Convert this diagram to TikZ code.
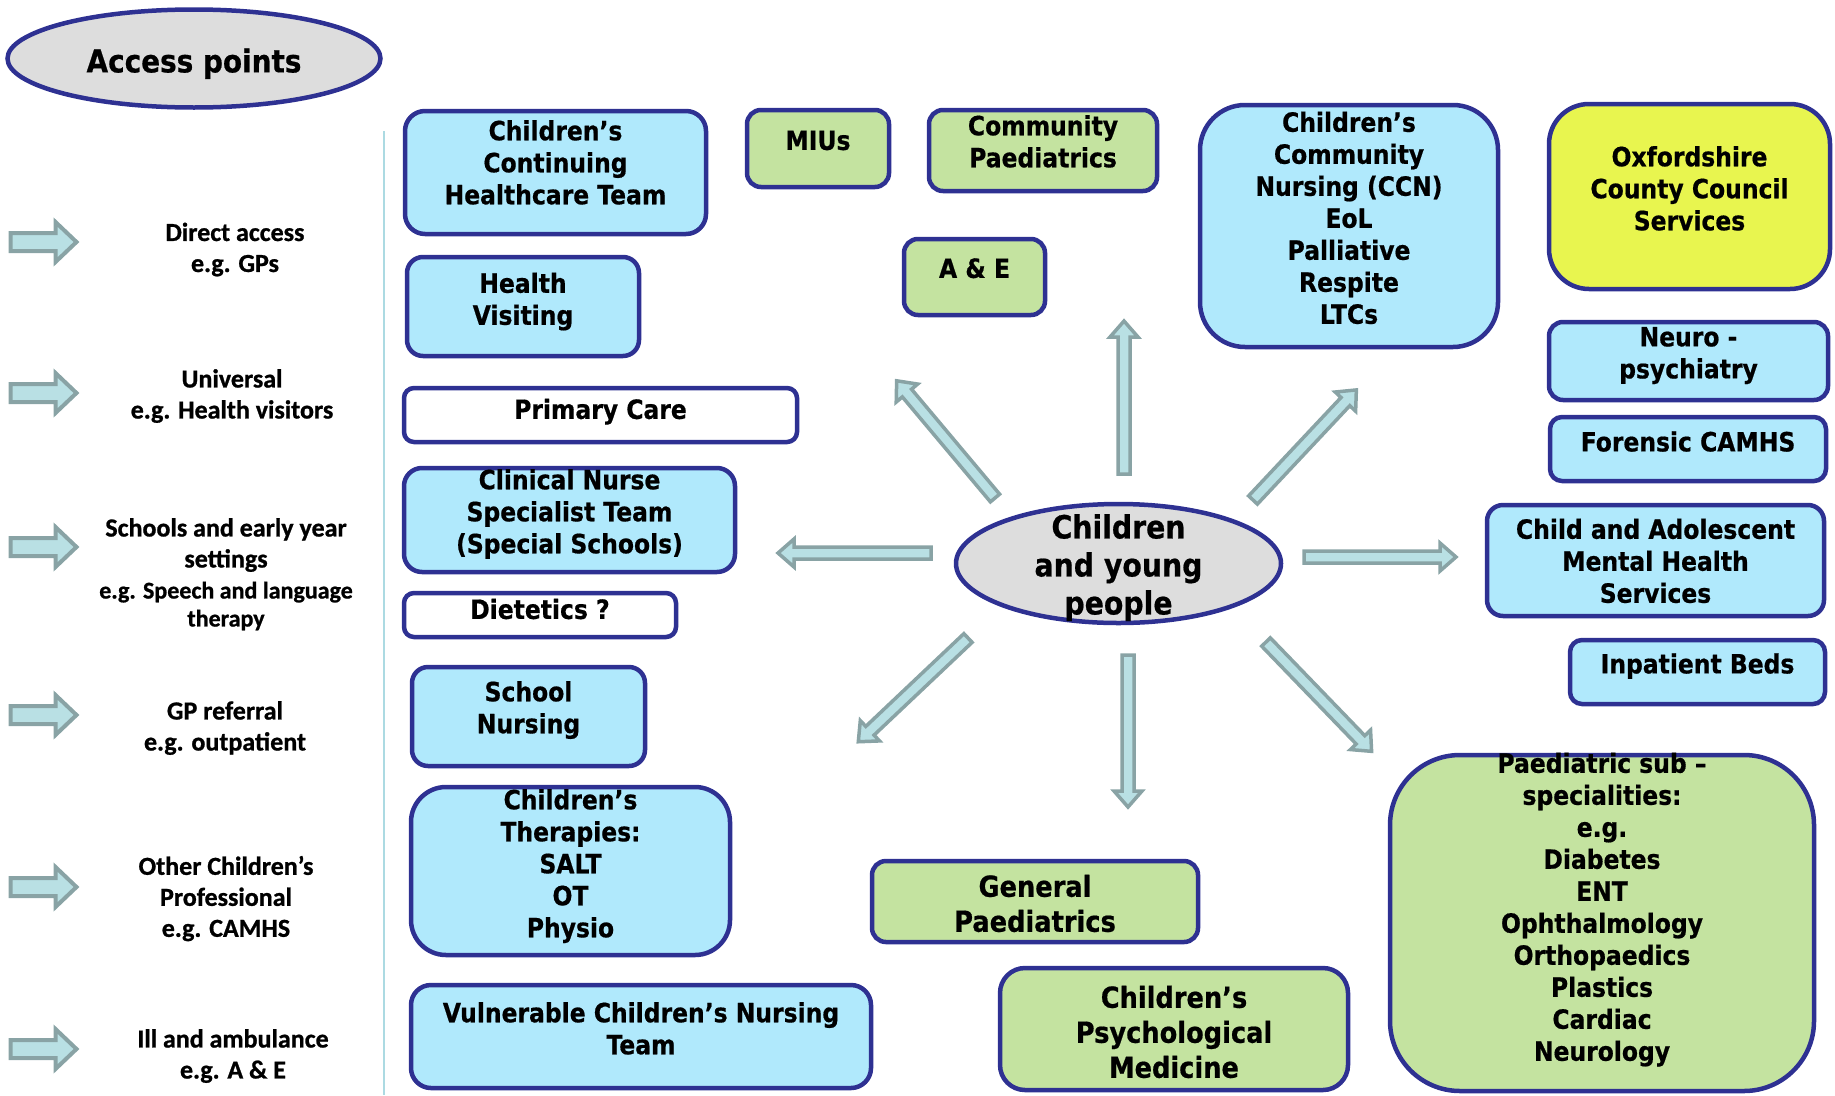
\documentclass[tikz,border=0pt]{standalone}
\usepackage{fontspec}
\newfontfamily\boxfont[FakeStretch=0.885,FakeBold=0.6]{DejaVu Sans Bold}
\newfontfamily\labelfont[FakeBold=0.9]{Carlito Bold}
\usetikzlibrary{shapes.geometric}

\definecolor{navy}{RGB}{46,49,146}
\definecolor{skyfill}{RGB}{176,233,252}
\definecolor{leaffill}{RGB}{196,227,160}
\definecolor{lemonfill}{RGB}{232,245,79}
\definecolor{greyfill}{RGB}{221,221,221}
\definecolor{arrowline}{RGB}{137,163,165}
\definecolor{arrowfill}{RGB}{185,224,228}
\definecolor{rulecol}{RGB}{172,218,226}

\begin{document}
\begin{tikzpicture}[x=1pt,y=-1pt,
    box/.style={draw=navy,line width=4.5pt,rounded corners=14pt,inner sep=0pt},
    sky/.style={box,fill=skyfill},
    leaf/.style={box,fill=leaffill},
    lemon/.style={box,fill=lemonfill},
    plain/.style={box,fill=white,rounded corners=10pt},
    oval/.style={ellipse,draw=navy,line width=4.5pt,fill=greyfill,inner sep=0pt},
    boxtext/.style={font=\boxfont\fontsize{26.5}{32}\selectfont,align=center,inner sep=0pt,
        execute at begin node=\strut,execute at end node=\strut},
    bigtext/.style={boxtext,font=\boxfont\fontsize{29}{35}\selectfont},
    sidetext/.style={boxtext,font=\labelfont\fontsize{26}{31}\selectfont},
    spokeline/.style={draw=arrowline,fill=arrowfill,line width=3.5pt},
    spoke/.pic={\path[spokeline] (0,-6) -- (#1-16,-6) -- (#1-16,-14) -- (#1,0) -- (#1-16,14) -- (#1-16,6) -- (0,6) -- cycle;},
    feeder/.pic={\path[spokeline,line width=4pt] (0,-9) -- (45,-9) -- (45,-20) -- (66,0) -- (45,20) -- (45,9) -- (0,9) -- cycle;},
    ]
    \useasboundingbox (0,0) rectangle (1835,1095);

    % access points column
    \node[oval,minimum width=373pt,minimum height=98pt] (access) at (194,58.5) {};
    \node[boxtext,font=\boxfont\fontsize{31.5}{37}\selectfont] (access-t) at (194,65) {Access points};
    \draw[rulecol,line width=2pt] (384,131) -- (384,1095);

    \pic at (10.5,242) {feeder};
    \pic at (10.5,393) {feeder};
    \pic at (10.5,547) {feeder};
    \pic at (10.5,715) {feeder};
    \pic at (10.5,887) {feeder};
    \pic at (10.5,1049) {feeder};

    \node[sidetext] (direct) at (235,252) {Direct access\\e.g. GPs};
    \node[sidetext] (universal) at (232,398.5) {Universal\\e.g. Health visitors};
    \node[sidetext] (schools) at (226,577) {Schools and early year\\settings\\
        \fontsize{24}{28}\selectfont e.g. Speech and language\\[-3pt]
        \fontsize{24}{28}\selectfont therapy};
    \node[sidetext] (gpref) at (225,730.5) {GP referral\\e.g. outpatient};
    \node[sidetext] (otherprof) at (226,901) {Other Children’s\\Professional\\e.g. CAMHS};
    \node[sidetext] (ambulance) at (233,1058.5) {Ill and ambulance\\e.g. A \& E};

    % spokes out of the centre
    \pic[rotate=90] at (1124,474) {spoke=153};
    \pic[rotate=130] at (995,498) {spoke=153};
    \pic[rotate=46.8] at (1253,500) {spoke=151};
    \pic[rotate=180] at (931,553) {spoke=153};
    \pic at (1304,557) {spoke=152};
    \pic[rotate=223.4] at (968,638) {spoke=151};
    \pic[rotate=270] at (1128,655) {spoke=152};
    \pic[rotate=-46] at (1266,642) {spoke=152};

    \node[oval,minimum width=325pt,minimum height=119pt] (cyp) at (1118.5,563.5) {};
    \node[boxtext,font=\boxfont\fontsize{32}{38}\selectfont] (cyp-t) at (1118.5,570) {Children\\and young\\people};

    % services
    \node[sky,minimum width=301pt,minimum height=123pt,rounded corners=20pt] (contcare) at (555.5,172.5) {};
    \node[sky,minimum width=232pt,minimum height=99pt,rounded corners=16pt] (healthvis) at (523,306.5) {};
    \node[plain,minimum width=393pt,minimum height=54pt] (primary) at (600.5,415) {};
    \node[sky,minimum width=331pt,minimum height=104pt,rounded corners=18pt] (cnst) at (569.5,520) {};
    \node[plain,minimum width=272pt,minimum height=44pt] (dietetics) at (540,615) {};
    \node[sky,minimum width=233pt,minimum height=99pt,rounded corners=16pt] (schoolnurse) at (528.5,716.5) {};
    \node[sky,minimum width=319pt,minimum height=168pt,rounded corners=35pt] (therapies) at (570.5,871) {};
    \node[sky,minimum width=460pt,minimum height=103pt,rounded corners=20pt] (vcnt) at (641,1036.5) {};
    \node[leaf,minimum width=142pt,minimum height=77pt] (mius) at (818,148.5) {};
    \node[leaf,minimum width=228pt,minimum height=81pt] (commpaed) at (1043,150.5) {};
    \node[leaf,minimum width=141pt,minimum height=76pt] (ae) at (974.5,277) {};
    \node[sky,minimum width=298pt,minimum height=242pt,rounded corners=45pt] (ccn) at (1349,226) {};
    \node[lemon,minimum width=281pt,minimum height=185pt,rounded corners=40pt] (occ) at (1689.5,196.5) {};
    \node[sky,minimum width=279pt,minimum height=78pt] (neuro) at (1688.5,361) {};
    \node[sky,minimum width=276pt,minimum height=64pt,rounded corners=12pt] (forensic) at (1688,449) {};
    \node[sky,minimum width=337pt,minimum height=111pt,rounded corners=16pt] (camhs) at (1655.5,560.5) {};
    \node[sky,minimum width=255pt,minimum height=64pt,rounded corners=12pt] (inpatient) at (1697.5,672) {};
    \node[leaf,minimum width=424pt,minimum height=336pt,rounded corners=70pt] (subspec) at (1602,923) {};
    \node[leaf,minimum width=326pt,minimum height=81pt] (genpaed) at (1035,901.5) {};
    \node[leaf,minimum width=348pt,minimum height=122pt,rounded corners=25pt] (psychmed) at (1174,1029) {};

    \node[boxtext] (contcare-t) at (555.5,167) {Children’s\\Continuing\\Healthcare Team};
    \node[boxtext] (healthvis-t) at (523,303.5) {Health\\Visiting};
    \node[boxtext] (primary-t) at (600.5,412.5) {Primary Care};
    \node[boxtext] (cnst-t) at (569.5,516) {Clinical Nurse\\Specialist Team\\(Special Schools)};
    \node[boxtext] (dietetics-t) at (540,612.5) {Dietetics ?};
    \node[boxtext] (schoolnurse-t) at (528.5,712) {School\\Nursing};
    \node[boxtext] (therapies-t) at (570.5,868) {Children’s\\Therapies:\\SALT\\OT\\Physio};
    \node[boxtext] (vcnt-t) at (641,1033) {Vulnerable Children’s Nursing\\Team};
    \node[boxtext] (mius-t) at (818,143.5) {MIUs};
    \node[boxtext] (commpaed-t) at (1043,146) {Community\\Paediatrics};
    \node[boxtext] (ae-t) at (974.5,271.5) {A \& E};
    \node[boxtext] (ccn-t) at (1349,222.5) {Children’s\\Community\\Nursing (CCN)\\EoL\\Palliative\\Respite\\LTCs};
    \node[boxtext] (occ-t) at (1689.5,193) {Oxfordshire\\County Council\\Services};
    \node[boxtext] (neuro-t) at (1688.5,357.5) {Neuro -\\psychiatry};
    \node[boxtext] (forensic-t) at (1688,445) {Forensic CAMHS};
    \node[boxtext] (camhs-t) at (1655.5,565.5) {Child and Adolescent\\Mental Health\\Services};
    \node[boxtext] (inpatient-t) at (1697.5,667) {Inpatient Beds};
    \node[boxtext] (subspec-t) at (1602,911.5) {Paediatric sub –\\specialities:\\e.g.\\Diabetes\\ENT\\Ophthalmology\\Orthopaedics\\Plastics\\Cardiac\\Neurology};
    \node[bigtext] (genpaed-t) at (1035,908.5) {General\\Paediatrics};
    \node[bigtext] (psychmed-t) at (1174,1037) {Children’s\\Psychological\\Medicine};
\end{tikzpicture}
\end{document}
